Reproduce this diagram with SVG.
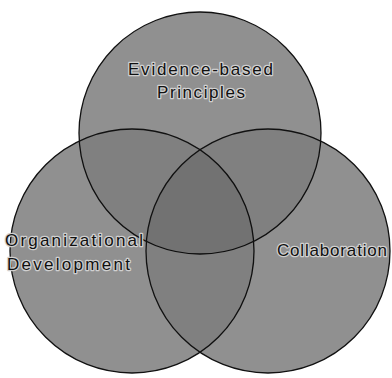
<svg xmlns="http://www.w3.org/2000/svg" width="392" height="378" viewBox="0 0 392 378">
<style>
.b{fill:#a2a2a2;stroke:none}
.c{fill:#000;fill-opacity:0.11;stroke:#111;stroke-width:1.3}
.t{font-family:"Liberation Sans",Arial,sans-serif;font-size:17px;fill:#111;stroke:#d0d0d0;stroke-width:2.5;paint-order:stroke;stroke-linejoin:round}
</style>
<rect width="392" height="378" fill="#fff"/>
<g id="base">
<circle class="b" cx="200" cy="133" r="121"/>
<circle class="b" cx="132" cy="251" r="122"/>
<circle class="b" cx="268" cy="251" r="122"/>
</g>
<g id="connectors"></g>
<g id="evidence">
<circle class="c" cx="200" cy="133" r="121"/>
</g>
<g id="organizational">
<circle class="c" cx="132" cy="251" r="122"/>
</g>
<g id="collaboration">
<circle class="c" cx="268" cy="251" r="122"/>
</g>
<g id="labels">
<text class="t" x="128" y="75" textLength="145" lengthAdjust="spacing">Evidence-based</text>
<text class="t" x="157" y="98" textLength="88" lengthAdjust="spacing">Principles</text>
<text class="t" x="5" y="246" textLength="138" lengthAdjust="spacing">Organizational</text>
<text class="t" x="7" y="270" textLength="123" lengthAdjust="spacing">Development</text>
<text class="t" x="277" y="256" textLength="110" lengthAdjust="spacing">Collaboration</text>
</g>
</svg>
